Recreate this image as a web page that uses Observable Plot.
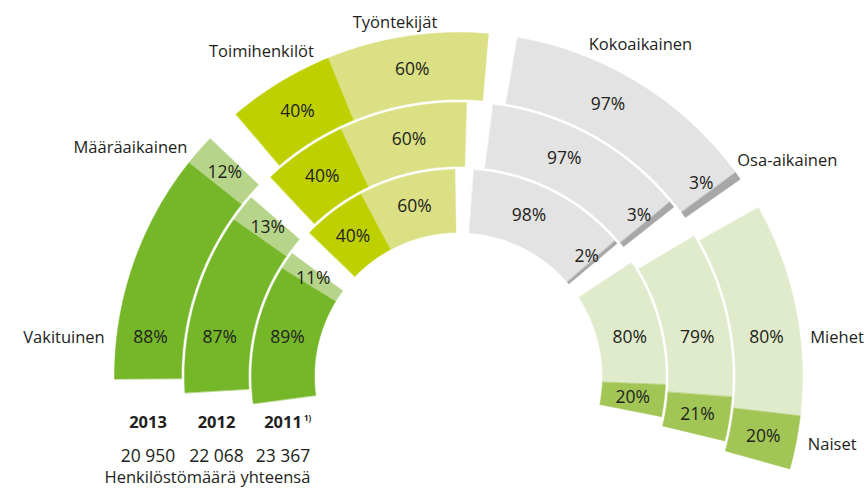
<!DOCTYPE html>
<html><head><meta charset="utf-8">
<script src="https://cdn.jsdelivr.net/npm/d3@7"></script>
<script src="https://cdn.jsdelivr.net/npm/@observablehq/plot@0.6"></script>
<style>body{margin:0;background:#fff}svg{display:block}</style>
</head><body><div id="chart"></div>
<script>
// ---------- data ----------
const years = ["2013", "2012", "2011"];
const yearNote = "1)";
const totals = ["20 950", "22 068", "23 367"];
const totalsCaption = "Henkilöstömäärä yhteensä";
const categories = ["Vakituinen", "Määräaikainen", "Toimihenkilöt", "Työntekijät",
                    "Kokoaikainen", "Osa-aikainen", "Miehet", "Naiset"];
const groupOf = [0, 0, 1, 1, 2, 2, 3, 3];
const values2013 = [88, 12, 40, 60, 97, 3, 80, 20];
const values2012 = [87, 13, 40, 60, 97, 3, 79, 21];
const values2011 = [89, 11, 40, 60, 98, 2, 80, 20];
const valuesByYear = [values2013, values2012, values2011];
const colors = ["#76b72a", "#b7d58a", "#bed000", "#dae083",
                "#e3e3e3", "#a7a7a7", "#e0ebcb", "#a2c656"];

// ---------- layout (degrees clockwise from 12 o'clock, radii in px) ----------
const ringRadii = [[277, 344], [210, 274], [144, 207]];
const groupAngles = [
  [[-90.4, -46.2], [-40.3, 5.0], [9.9, 55.0], [60.6, 105.6]],
  [[-93.4, -49.2], [-43.3, 1.7], [7.3, 51.8], [59.2, 103.6]],
  [[-97.5, -53.5], [-46.0, -1.0], [4.3, 50.0], [56.7, 101.2]]
];
const labelLine = 39;   // shared horizontal line for Vakituinen / Miehet labels
const font = "Open Sans";
const ink = "#231f20";

const rad = d => d * Math.PI / 180;
const pt = (a, r) => ({x: r * Math.sin(rad(a)), y: r * Math.cos(rad(a))});

// ---------- build segments ----------
const polys = [];
const pct = [];
const segInfo = {};
years.forEach((yr, yi) => {
  const vals = valuesByYear[yi];
  const [r0, r1] = ringRadii[yi];
  const rm = (r0 + r1) / 2;
  const cum = [0, 0, 0, 0];
  categories.forEach((cat, ci) => {
    const g = groupOf[ci];
    const [g0, g1] = groupAngles[yi][g];
    const a0 = g0 + (g1 - g0) * cum[g] / 100;
    cum[g] += vals[ci];
    const a1 = g0 + (g1 - g0) * cum[g] / 100;
    const id = yr + "-" + cat;
    segInfo[id] = {a0, a1, r0, r1, rm};
    const n = Math.max(2, Math.ceil(Math.abs(a1 - a0) / 0.75));
    for (let i = 0; i <= n; i++) polys.push({id, color: colors[ci], ...pt(a0 + (a1 - a0) * i / n, r1)});
    for (let i = n; i >= 0; i--) polys.push({id, color: colors[ci], ...pt(a0 + (a1 - a0) * i / n, r0)});
    // value label
    let p;
    if (ci === 0 || ci === 6) {
      const x = Math.sqrt(rm * rm - labelLine * labelLine);
      p = {x: ci === 0 ? -x : x, y: labelLine};
    } else if (ci === 5) p = pt(a0 - 2.2, rm);
    else if (ci === 4) p = pt((a0 + a1) / 2 - 3, rm);
    else p = pt((a0 + a1) / 2, rm);
    pct.push({...p, text: vals[ci] + "%"});
  });
});

// ---------- category labels (positioned from the outer ring) ----------
const s = c => segInfo["2013-" + c];
const outerX = Math.sqrt(344 * 344 - labelLine * labelLine);
const mid = o => (o.a0 + o.a1) / 2;
const catEnd = [
  {x: -outerX - 12, y: labelLine, text: categories[0]},
  (() => { const p = pt(mid(s(categories[1])), 348); return {x: p.x - 9, y: p.y, text: categories[1]}; })()
];
const catMid = [
  {...pt(mid(s(categories[2])), 380), text: categories[2]},
  (() => { const p = pt(mid(s(categories[3])), 358); return {x: p.x - 10, y: p.y, text: categories[3]}; })(),
  {...pt(mid(s(categories[4])) - 3, 378), text: categories[4]}
];
const catStart = [
  (() => { const p = pt(s(categories[5]).a1, 344); return {x: p.x - 3, y: p.y + 18, text: categories[5]}; })(),
  {x: outerX + 10, y: labelLine, text: categories[6]},
  {...pt(mid(s(categories[7])), 356), text: categories[7]}
];

const ringMid = ringRadii.map(([a, b]) => -(a + b) / 2);
const yearRows = years.map((y, i) => ({x: ringMid[i], y: -46, text: y}));
const totalRows = totals.map((t, i) => ({x: ringMid[i], y: -80, text: t}));

const common = {fontFamily: font, fontSize: 16.5, fill: ink};

const chart = Plot.plot({
  width: 865, height: 489, margin: 0,
  x: {domain: [-458, 407], axis: null},
  y: {domain: [-113, 376], axis: null},
  color: {type: "identity"},
  marks: [
    Plot.line(polys, {x: "x", y: "y", z: "id", fill: "color", stroke: "color", strokeWidth: 0.5, curve: "linear-closed"}),
    Plot.text(pct, {x: "x", y: "y", text: "text", ...common, fontSize: 17.5}),
    Plot.text(catEnd, {x: "x", y: "y", text: "text", textAnchor: "end", ...common}),
    Plot.text(catMid, {x: "x", y: "y", text: "text", ...common}),
    Plot.text(catStart, {x: "x", y: "y", text: "text", textAnchor: "start", ...common}),
    Plot.text(yearRows, {x: "x", y: "y", text: "text", ...common, fontWeight: "bold"}),
    Plot.text([{x: ringMid[2] + 21, y: -42, text: yearNote}], {x: "x", y: "y", text: "text", textAnchor: "start", fontFamily: font, fontSize: 8, fontWeight: "bold", fill: ink}),
    Plot.text(totalRows, {x: "x", y: "y", text: "text", ...common, fontSize: 17.5}),
    Plot.text([{x: -354, y: -101, text: totalsCaption}], {x: "x", y: "y", text: "text", textAnchor: "start", ...common})
  ]
});
document.getElementById("chart").appendChild(chart);
</script>
</body></html>
